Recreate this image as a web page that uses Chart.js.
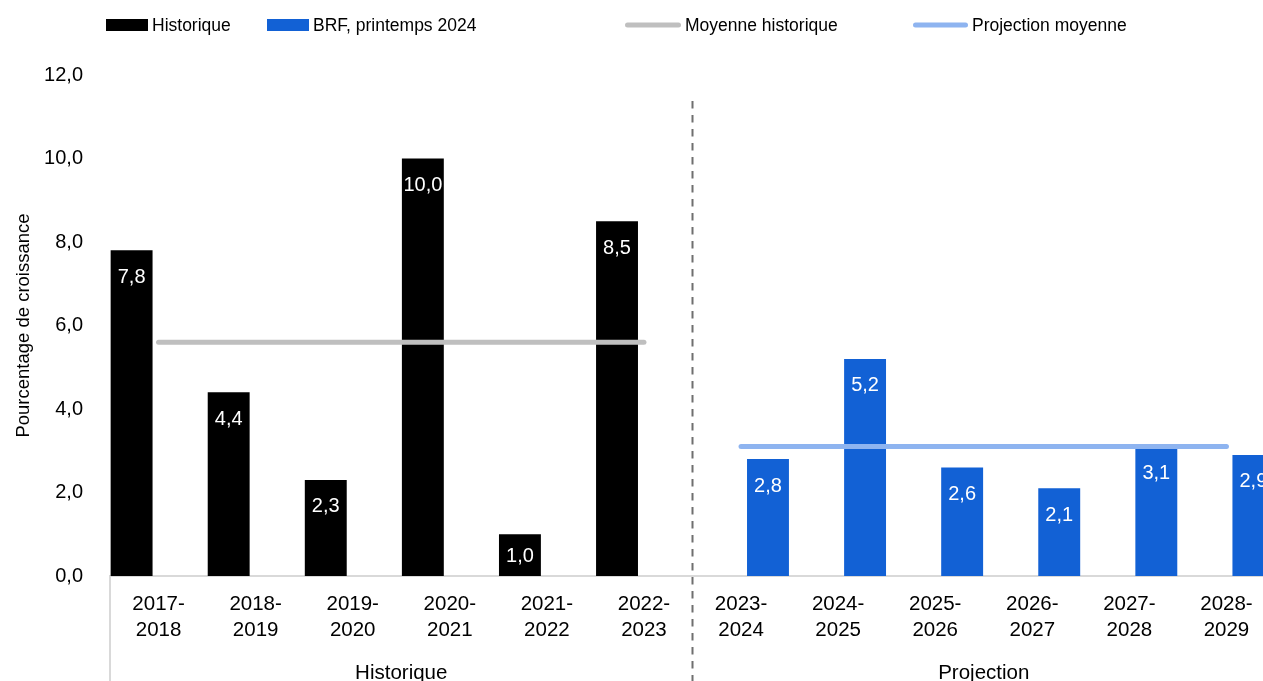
<!DOCTYPE html>
<html>
<head>
<meta charset="utf-8">
<script src="https://cdn.jsdelivr.net/npm/chart.js@4"></script>
<style>
html,body{margin:0;padding:0;overflow:hidden;background:#ffffff;}
canvas{display:block;}
</style>
</head>
<body>
<canvas id="c" width="1290" height="700"></canvas>
<script>
// ---- Data ----
const categories = [
  ['2017-','2018'], ['2018-','2019'], ['2019-','2020'], ['2020-','2021'],
  ['2021-','2022'], ['2022-','2023'], ['2023-','2024'], ['2024-','2025'],
  ['2025-','2026'], ['2026-','2027'], ['2027-','2028'], ['2028-','2029']
];
const historique = [7.8, 4.4, 2.3, 10.0, 1.0, 8.5, null, null, null, null, null, null];
const brfPrintemps2024 = [null, null, null, null, null, null, 2.8, 5.2, 2.6, 2.1, 3.1, 2.9];
const moyenneHistorique = [5.6, 5.6, 5.6, 5.6, 5.6, 5.6, null, null, null, null, null, null];
const projectionMoyenne = [null, null, null, null, null, null, 3.1, 3.1, 3.1, 3.1, 3.1, 3.1];
const groupLabels = ['Historique', 'Projection'];
const groupFirstIndex = [0, 6];
const groupLastIndex = [5, 11];
const yMin = 0, yMax = 12, yStep = 2;
const yTitle = 'Pourcentage de croissance';

const FONT = '"Liberation Sans", Arial, Helvetica, sans-serif';
const fmt = v => v.toFixed(1).replace('.', ',');

// ---- Custom legend ----
const legendLayout = [{x:106,w:42},{x:267,w:42},{x:625,w:56},{x:913,w:55}];
const legendOrder = [0,1,2,3];
const legendPlugin = {
  id: 'customLegend',
  afterDraw(chart) {
    const ctx = chart.ctx;
    const y = 25;
    ctx.save();
    ctx.font = '17.5px ' + FONT;
    ctx.textBaseline = 'middle';
    ctx.textAlign = 'left';
    legendOrder.forEach((di, i) => {
      const ds = chart.data.datasets[di];
      const L = legendLayout[i];
      if (ds.type === 'line') {
        ctx.strokeStyle = ds.borderColor;
        ctx.lineWidth = 5;
        ctx.lineCap = 'round';
        ctx.beginPath();
        ctx.moveTo(L.x + 2.5, y);
        ctx.lineTo(L.x + L.w - 2.5, y);
        ctx.stroke();
      } else {
        ctx.fillStyle = ds.backgroundColor;
        ctx.fillRect(L.x, y - 6, L.w, 12);
      }
      ctx.fillStyle = '#000';
      ctx.fillText(ds.label, L.x + L.w + 4, y + 1);
    });
    ctx.restore();
  }
};

// ---- Data labels inside bars ----
const barLabelPlugin = {
  id: 'barLabels',
  afterDatasetsDraw(chart) {
    const ctx = chart.ctx;
    ctx.save();
    ctx.font = '20px ' + FONT;
    ctx.fillStyle = '#ffffff';
    ctx.textAlign = 'center';
    ctx.textBaseline = 'middle';
    chart.data.datasets.forEach((ds, di) => {
      if (ds.type !== 'bar') return;
      const meta = chart.getDatasetMeta(di);
      meta.data.forEach((el, i) => {
        const v = ds.data[i];
        if (v === null || v === undefined) return;
        const top = el.y, base = el.base;
        const ly = Math.min(top + 26, (top + base) / 2);
        ctx.fillText(fmt(v), el.x, ly + 1);
      });
    });
    ctx.restore();
  }
};

// ---- Multi-level axis decorations ----
const axisDecoPlugin = {
  id: 'axisDeco',
  afterDraw(chart) {
    const ctx = chart.ctx;
    const xs = chart.scales.x;
    const area = chart.chartArea;
    const half = (xs.getPixelForValue(1) - xs.getPixelForValue(0)) / 2;
    const H = chart.height;
    ctx.save();
    ctx.strokeStyle = '#d9d9d9';
    ctx.lineWidth = 2;
    ctx.beginPath();
    ctx.moveTo(area.left, area.bottom);
    ctx.lineTo(area.left, H);
    ctx.stroke();
    ctx.font = '20.5px ' + FONT;
    ctx.fillStyle = '#000';
    ctx.textAlign = 'center';
    ctx.textBaseline = 'middle';
    groupLabels.forEach((g, i) => {
      const x0 = xs.getPixelForValue(groupFirstIndex[i]) - half;
      const x1 = xs.getPixelForValue(groupLastIndex[i]) + half;
      ctx.fillText(g, (x0 + x1) / 2, 673);
    });
    const sepX = xs.getPixelForValue(groupLastIndex[0]) + half;
    ctx.strokeStyle = '#6f6f6f';
    ctx.lineWidth = 2;
    ctx.setLineDash([7.5, 6.5]);
    ctx.beginPath();
    ctx.moveTo(sepX, 101);
    ctx.lineTo(sepX, H);
    ctx.stroke();
    ctx.restore();
  }
};

new Chart(document.getElementById('c'), {
  data: {
    labels: categories,
    datasets: [
      { type: 'bar', label: 'Historique', data: historique,
        backgroundColor: '#000000', order: 1,
        categoryPercentage: 1.11, barPercentage: 0.778 },
      { type: 'bar', label: 'BRF, printemps 2024', data: brfPrintemps2024,
        backgroundColor: '#1261D5', order: 1,
        categoryPercentage: 1.11, barPercentage: 0.778 },
      { type: 'line', label: 'Moyenne historique', data: moyenneHistorique,
        borderColor: '#BFBFBF', borderWidth: 5, borderCapStyle: 'round',
        pointRadius: 0, fill: false, order: 0, spanGaps: false },
      { type: 'line', label: 'Projection moyenne', data: projectionMoyenne,
        borderColor: '#8EB4F0', borderWidth: 5, borderCapStyle: 'round',
        pointRadius: 0, fill: false, order: 0, spanGaps: false }
    ]
  },
  options: {
    responsive: false,
    animation: false,
    layout: { padding: { top: 75, left: 0, right: 15, bottom: 0 } },
    plugins: {
      legend: { display: false },
      tooltip: { enabled: false },
      title: { display: false }
    },
    scales: {
      x: {
        type: 'category',
        offset: true,
        grid: { display: false, drawTicks: false },
        border: { display: true, color: '#d9d9d9', width: 2 },
        ticks: {
          color: '#000', padding: 15, maxRotation: 0, autoSkip: false,
          font: { family: FONT, size: 20.5, lineHeight: 1.27 }
        },
        afterFit(scale) { scale.height = 124; }
      },
      y: {
        min: yMin, max: yMax,
        grid: { display: false, drawTicks: false },
        border: { display: false },
        ticks: {
          stepSize: yStep, color: '#000', padding: 27,
          font: { family: FONT, size: 20 },
          callback: v => fmt(v)
        },
        title: {
          display: true, text: yTitle, color: '#000',
          font: { family: FONT, size: 18.5 },
          padding: { top: 13, bottom: 0 }
        },
        afterFit(scale) { scale.width = 110; }
      }
    }
  },
  plugins: [barLabelPlugin, axisDecoPlugin, legendPlugin]
});
</script>
</body>
</html>
